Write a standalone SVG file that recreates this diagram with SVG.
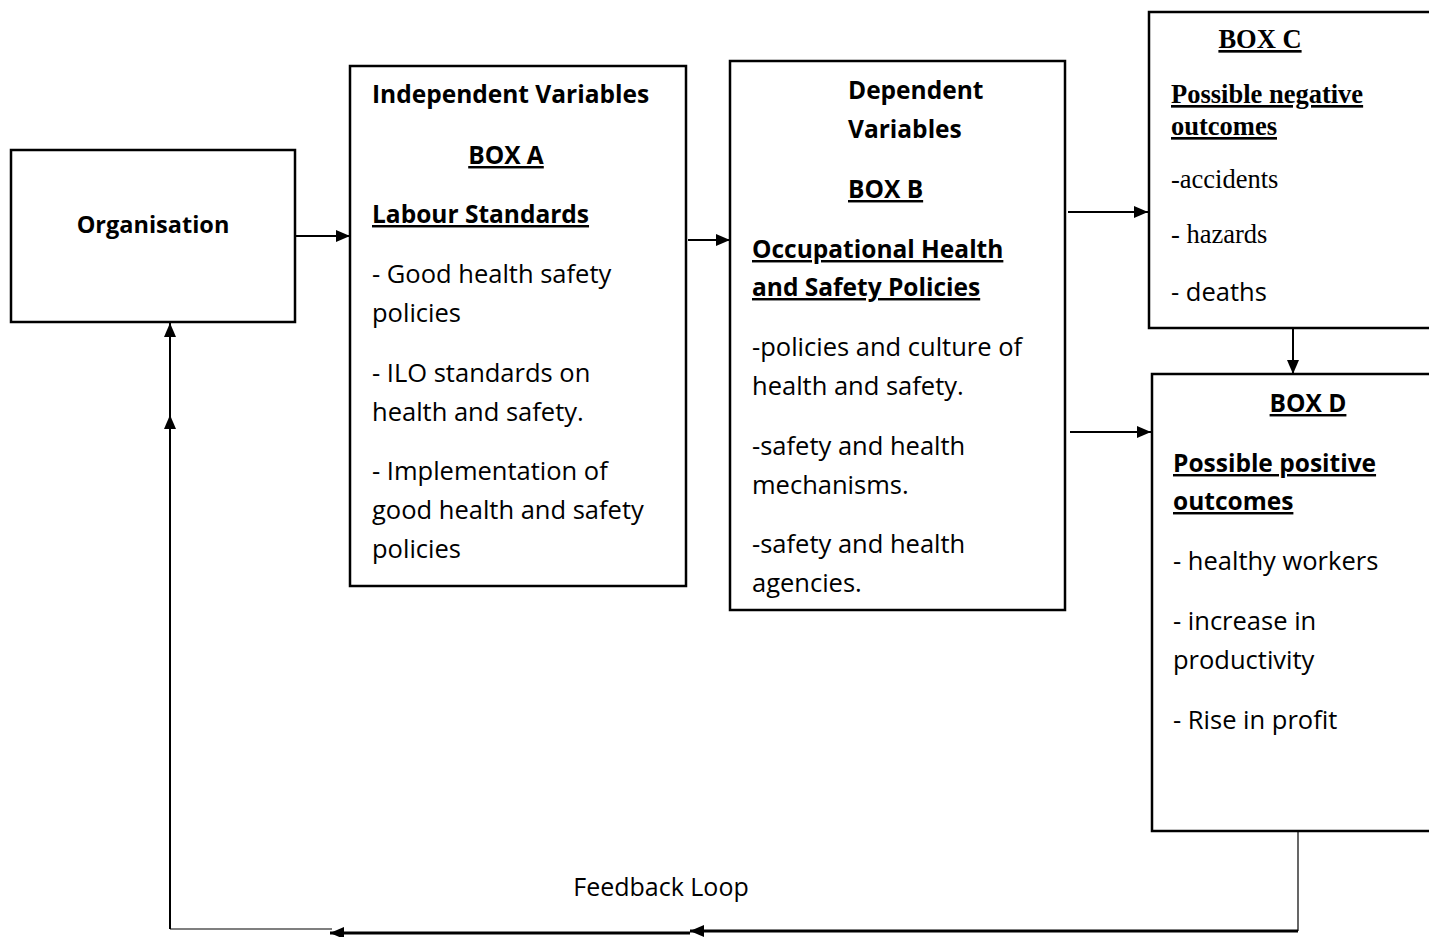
<svg xmlns="http://www.w3.org/2000/svg" width="1429" height="937" viewBox="0 0 1429 937">
<style>
.box{fill:#fff;stroke:#000;stroke-width:2.5}
.t{font-family:"Open Sans","Liberation Sans",Arial,sans-serif;font-size:25.5px;fill:#000}
.b{font-weight:bold;font-size:24.5px}
.u{text-decoration:underline}
.s{font-family:"Liberation Serif","Times New Roman",serif;font-size:26.5px;fill:#000}
.ln{stroke:#000;stroke-width:2;fill:none}
.th{stroke:#000;stroke-width:3;fill:none}
.hl{stroke:#000;stroke-width:1.2;fill:none}
</style>
<defs>
<marker id="ah" viewBox="0 0 14 12" refX="14" refY="6" markerWidth="14" markerHeight="12" markerUnits="userSpaceOnUse" orient="auto">
<path d="M0,0 L14,6 L0,12 Z" fill="#000"/>
</marker>
</defs>
<rect width="1429" height="937" fill="#fff"/>
<g id="connectors">
<line class="ln" x1="296" y1="236" x2="350" y2="236" marker-end="url(#ah)"/>
<line class="ln" x1="688" y1="240" x2="730" y2="240" marker-end="url(#ah)"/>
<line class="ln" x1="1068" y1="212" x2="1148" y2="212" marker-end="url(#ah)"/>
<line class="ln" x1="1070" y1="432" x2="1151" y2="432" marker-end="url(#ah)"/>
<line class="ln" x1="1293" y1="328" x2="1293" y2="374" marker-end="url(#ah)"/>
<line class="hl" x1="1298" y1="832" x2="1298" y2="931"/>
<line class="th" x1="1298" y1="931" x2="690" y2="931" marker-end="url(#ah)"/>
<line class="th" x1="690" y1="933" x2="330" y2="933" marker-end="url(#ah)"/>
<line class="hl" x1="332" y1="929" x2="170" y2="929"/>
<line class="ln" x1="170" y1="929" x2="170" y2="415" marker-end="url(#ah)"/>
<line class="ln" x1="170" y1="415" x2="170" y2="323" marker-end="url(#ah)"/>
<text class="t" x="661" y="896" text-anchor="middle" style="font-size:25px">Feedback Loop</text>
</g>
<g id="organisation">
<rect class="box" x="11" y="150" width="284" height="172"/>
<text class="t b" x="153" y="233" text-anchor="middle" style="font-size:23.5px">Organisation</text>
</g>
<g id="boxA">
<rect class="box" x="350" y="66" width="336" height="520"/>
<text class="t b" x="372" y="103">Independent Variables</text>
<text class="t b u" x="506" y="164" text-anchor="middle">BOX A</text>
<text class="t b u" x="372" y="223">Labour Standards</text>
<text class="t" x="372" y="283">- Good health safety</text>
<text class="t" x="372" y="322">policies</text>
<text class="t" x="372" y="382">- ILO standards on</text>
<text class="t" x="372" y="421">health and safety.</text>
<text class="t" x="372" y="480">- Implementation of</text>
<text class="t" x="372" y="519">good health and safety</text>
<text class="t" x="372" y="558">policies</text>
</g>
<g id="boxB">
<rect class="box" x="730" y="61" width="335" height="549"/>
<text class="t b" x="848" y="99">Dependent</text>
<text class="t b" x="848" y="138">Variables</text>
<text class="t b u" x="848" y="198">BOX B</text>
<text class="t b u" x="752" y="258">Occupational Health</text>
<text class="t b u" x="752" y="296">and Safety Policies</text>
<text class="t" x="752" y="356">-policies and culture of</text>
<text class="t" x="752" y="395">health and safety.</text>
<text class="t" x="752" y="455">-safety and health</text>
<text class="t" x="752" y="494">mechanisms.</text>
<text class="t" x="752" y="553">-safety and health</text>
<text class="t" x="752" y="592">agencies.</text>
</g>
<g id="boxC">
<rect class="box" x="1149" y="12" width="300" height="316"/>
<text class="s b u" x="1260" y="48" text-anchor="middle">BOX C</text>
<text class="s b u" x="1171" y="103">Possible negative</text>
<text class="s b u" x="1171" y="135">outcomes</text>
<text class="s" x="1171" y="188">-accidents</text>
<text class="s" x="1171" y="243">- hazards</text>
<text class="t" x="1171" y="301">- deaths</text>
</g>
<g id="boxD">
<rect class="box" x="1152" y="374" width="300" height="457"/>
<text class="t b u" x="1308" y="412" text-anchor="middle">BOX D</text>
<text class="t b u" x="1173" y="472">Possible positive</text>
<text class="t b u" x="1173" y="510">outcomes</text>
<text class="t" x="1173" y="570">- healthy workers</text>
<text class="t" x="1173" y="630">- increase in</text>
<text class="t" x="1173" y="669">productivity</text>
<text class="t" x="1173" y="729">- Rise in profit</text>
</g>
</svg>
